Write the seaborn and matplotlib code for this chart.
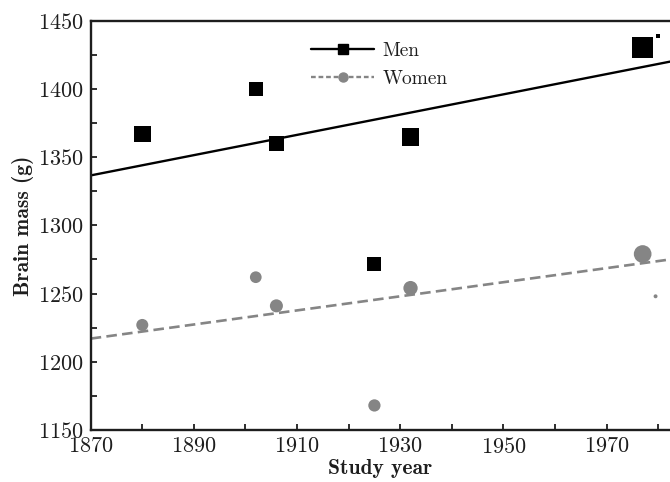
import numpy as np
import pandas as pd
import matplotlib
matplotlib.use('Agg')
import matplotlib.pyplot as plt
import seaborn as sns
from matplotlib.lines import Line2D
from matplotlib.ticker import MultipleLocator

# ---- data ----
men_year = [1880, 1902, 1906, 1925, 1932, 1977, 1980]
men_mass = [1367, 1400, 1360, 1272, 1365, 1430, 1439]
men_n = [144, 106, 117, 102, 162, 229, 8]          # marker area (sample weight)
women_year = [1880, 1902, 1906, 1925, 1932, 1977, 1979.5]
women_mass = [1227, 1262, 1241, 1168, 1254, 1279, 1248]
women_n = [75, 71, 88, 78, 106, 162, 8]
trend_year = [1870, 1982.3]
men_trend = [1336.6, 1420]
women_trend = [1217, 1275]
x_ticks = [1870, 1890, 1910, 1930, 1950, 1970]
y_ticks = [1150, 1200, 1250, 1300, 1350, 1400, 1450]

sns.set_style('ticks')
plt.rcParams['font.family'] = ['cmr10', 'DejaVu Serif']
plt.rcParams['axes.formatter.use_mathtext'] = True

men = pd.DataFrame({'year': men_year, 'mass': men_mass, 'n': men_n})
women = pd.DataFrame({'year': women_year, 'mass': women_mass, 'n': women_n})
men_line = pd.DataFrame({'year': trend_year, 'mass': men_trend})
women_line = pd.DataFrame({'year': trend_year, 'mass': women_trend})

fig = plt.figure(figsize=(6.7, 4.82), dpi=100)
ax = fig.add_axes([90.7 / 670, 52 / 482, (670 - 90.7) / 670, (430 - 20.7) / 482])

wcol = '#858585'
txt = '#1e1e1e'
sns.lineplot(data=men_line, x='year', y='mass', ax=ax, color='black', lw=1.7, zorder=2)
sns.lineplot(data=women_line, x='year', y='mass', ax=ax, color=wcol, lw=1.9,
             linestyle=(0, (4, 2)), zorder=2)
sns.scatterplot(data=men, x='year', y='mass', size='n', sizes={v: v for v in men_n},
                marker='s', color='black', linewidth=0, legend=False, ax=ax, zorder=3)
sns.scatterplot(data=women, x='year', y='mass', size='n', sizes={v: v for v in women_n},
                marker='o', color=wcol, linewidth=0, legend=False, ax=ax, zorder=3)

ax.set_xlim(1870, 1982.3)
ax.set_ylim(1150, 1450)
ax.set_xticks(x_ticks)
ax.set_yticks(y_ticks)
ax.xaxis.set_minor_locator(MultipleLocator(10))
ax.yaxis.set_minor_locator(MultipleLocator(25))
ax.tick_params(which='both', direction='in', length=4, width=1.3, color=txt,
               top=False, right=False, labelsize=16, labelcolor=txt)
ax.tick_params(axis='x', which='both', pad=5)
ax.tick_params(axis='y', which='both', pad=5)
for s in ['left', 'bottom', 'top']:
    ax.spines[s].set_linewidth(1.7)
    ax.spines[s].set_color(txt)
ax.spines['right'].set_visible(False)

ax.set_xlabel('Study year', fontsize=15.5, family='cmb10', color=txt)
ax.set_ylabel('Brain mass (g)', fontsize=15.5, family='cmb10', color=txt)
ax.xaxis.set_label_coords((380 - 90.7) / 579.3, (430 - 459) / 409.3)
ax.yaxis.set_label_coords((34 - 90.7) / 579.3, 0.5)

handles = [Line2D([], [], color='black', lw=1.7, marker='s', markersize=6.5),
           Line2D([], [], color=wcol, lw=1.7, linestyle=(0, (2, 1.2)), marker='o', markersize=6.5)]
ax.legend(handles, ['Men', 'Women'], loc='upper left', bbox_to_anchor=(0.381, 0.9475),
          frameon=False, fontsize=14, handlelength=3.2, handletextpad=0.45,
          labelspacing=0.5, borderpad=0, borderaxespad=0, labelcolor=txt)

fig.savefig('out.png', dpi=100)
